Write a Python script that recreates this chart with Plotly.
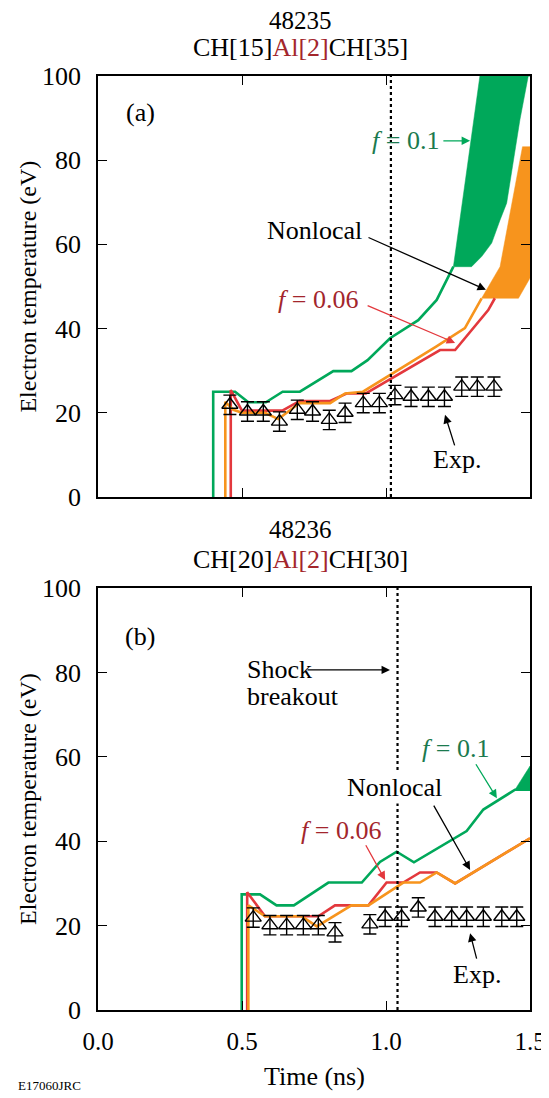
import plotly.graph_objects as go

# ---------------- data ----------------
# Panel (a): shot 48235
a_green_t = [0.40, 0.40, 0.476, 0.522, 0.583, 0.641, 0.701, 0.817, 0.88, 0.936, 1.014, 1.112, 1.176, 1.234]
a_green_T = [0, 25, 25, 22.5, 22.5, 25, 25, 29.9, 29.9, 32.5, 37.7, 42.0, 46.8, 54.7]
a_red_t = [0.461, 0.461, 0.50, 0.64, 0.70, 0.806, 0.865, 0.93, 1.1875, 1.24, 1.355, 1.378]
a_red_T = [0, 25.4, 20.5, 20.5, 22.8, 22.8, 24.6, 24.6, 34.9, 34.9, 44.4, 47.2]
a_orange_t = [0.442, 0.442, 0.47, 0.50, 0.58, 0.626, 0.70, 0.806, 0.858, 0.92, 1.174, 1.24, 1.274, 1.332]
a_orange_T = [0, 22.6, 20.7, 20.0, 20.0, 18.5, 22.3, 22.3, 24.6, 25.0, 35.7, 38.5, 40.1, 47.2]
# green band (f = 0.1): outline
a_gband_t = [1.234, 1.28, 1.326, 1.5, 1.5, 1.494, 1.465, 1.436, 1.419, 1.396, 1.367, 1.332, 1.297, 1.234]
a_gband_T = [54.7, 77.7, 100, 100, 100, 100, 89.6, 77.7, 69.8, 65.8, 60.3, 57.1, 54.7, 54.7]
# orange band (nonlocal): outline
a_oband_t = [1.332, 1.396, 1.474, 1.5, 1.5, 1.46, 1.332]
a_oband_T = [47.2, 54.7, 83.2, 83.2, 52.0, 47.2, 47.2]
a_exp_t = [0.458, 0.519, 0.574, 0.630, 0.692, 0.745, 0.803, 0.858, 0.921, 0.977,
           1.031, 1.087, 1.147, 1.203, 1.263, 1.317, 1.375]
a_exp_T = [21.9, 20.3, 20.3, 17.9, 20.7, 20.3, 18.3, 20.0, 22.3, 22.3,
           24.2, 23.8, 23.8, 23.8, 26.2, 26.2, 26.2]
a_shock = 1.017

# Panel (b): shot 48236
b_green_t = [0.499, 0.499, 0.5625, 0.62, 0.68, 0.80, 0.916, 0.979, 1.037, 1.097, 1.28, 1.338, 1.448, 1.5]
b_green_T = [0, 27.4, 27.4, 24.8, 24.8, 30.2, 30.2, 35.1, 37.5, 35.0, 42.4, 47.5, 52.2, 52.2]
b_red_t = [0.518, 0.518, 0.58, 0.765, 0.823, 0.939, 1.002, 1.06, 1.118, 1.176, 1.24, 1.5]
b_red_T = [0, 27.9, 22.2, 22.2, 24.8, 24.8, 30.2, 30.2, 32.6, 32.6, 30.0, 40.7]
b_orange_t = [0.522, 0.522, 0.58, 0.707, 0.76, 0.88, 0.939, 1.06, 1.118, 1.176, 1.24, 1.5]
b_orange_T = [0, 24.8, 22.2, 22.2, 19.8, 24.8, 24.8, 30.2, 30.2, 32.6, 30.0, 40.7]
b_gband_t = [1.448, 1.5, 1.5, 1.448]
b_gband_T = [52.2, 52.2, 57.8, 52.2]
b_exp_t = [0.539, 0.597, 0.655, 0.713, 0.765, 0.823, 0.944, 0.997, 1.054, 1.112,
           1.170, 1.228, 1.280, 1.338, 1.402, 1.454]
b_exp_T = [21.9, 20.1, 20.1, 20.1, 20.1, 18.4, 20.3, 22.1, 22.1, 24.3,
           22.1, 22.1, 22.1, 22.1, 22.1, 22.1]
b_shock = 1.04

exp_err = 2.3
x_ticks = [0.0, 0.5, 1.0, 1.5]
x_ticklabels = ["0.0", "0.5", "1.0", "1.5"]
y_ticks = [0, 20, 40, 60, 80, 100]

# ---------------- style ----------------
GREEN = "#00a85a"
ORANGE = "#f7941d"
RED = "#e3383d"
TXT_GREEN = "#1b7a4e"
TXT_RED = "#a3262c"
FONT = "Liberation Serif, Times New Roman, serif"
FS = 26
LW = 2.6

fig = go.Figure()


def add_panel(xa, ya, green_t, green_T, red_t, red_T, orange_t, orange_T,
              gband, oband, exp_t, exp_T, shock):
    xr, yr = xa, ya
    if gband is not None:
        fig.add_trace(go.Scatter(x=gband[0], y=gband[1], fill="toself", fillcolor=GREEN,
                                 mode="lines", line=dict(color=GREEN, width=0.5),
                                 xaxis=xr, yaxis=yr, showlegend=False, hoverinfo="skip"))
    if oband is not None:
        fig.add_trace(go.Scatter(x=oband[0], y=oband[1], fill="toself", fillcolor=ORANGE,
                                 mode="lines", line=dict(color=ORANGE, width=0.5),
                                 xaxis=xr, yaxis=yr, showlegend=False, hoverinfo="skip"))
    fig.add_trace(go.Scatter(x=green_t, y=green_T, mode="lines",
                             line=dict(color=GREEN, width=LW),
                             xaxis=xr, yaxis=yr, showlegend=False))
    fig.add_trace(go.Scatter(x=red_t, y=red_T, mode="lines",
                             line=dict(color=RED, width=LW),
                             xaxis=xr, yaxis=yr, showlegend=False))
    fig.add_trace(go.Scatter(x=orange_t, y=orange_T, mode="lines",
                             line=dict(color=ORANGE, width=LW),
                             xaxis=xr, yaxis=yr, showlegend=False))
    fig.add_trace(go.Scatter(x=[shock, shock], y=[0, 100], mode="lines",
                             line=dict(color="black", width=2.2, dash="dot"),
                             xaxis=xr, yaxis=yr, showlegend=False))
    fig.add_trace(go.Scatter(x=exp_t, y=exp_T, mode="markers",
                             marker=dict(symbol="triangle-up-open", size=14,
                                         color="black", line=dict(width=1.4, color="black")),
                             error_y=dict(type="constant", value=exp_err, color="black",
                                          thickness=1.4, width=6.5),
                             xaxis=xr, yaxis=yr, showlegend=False))


add_panel("x", "y", a_green_t, a_green_T, a_red_t, a_red_T, a_orange_t, a_orange_T,
          (a_gband_t, a_gband_T), (a_oband_t, a_oband_T), a_exp_t, a_exp_T, a_shock)
add_panel("x2", "y2", b_green_t, b_green_T, b_red_t, b_red_T, b_orange_t, b_orange_T,
          (b_gband_t, b_gband_T), None, b_exp_t, b_exp_T, b_shock)

axis_common = dict(showgrid=False, zeroline=False, showline=True, linecolor="black",
                   linewidth=1.5, mirror="ticks", ticks="inside", ticklen=9,
                   tickwidth=1.2, tickcolor="black", automargin=False,
                   tickfont=dict(family=FONT, size=FS, color="black"))

# page body has an 8 px margin; the figure is sized/margined to compensate
fig.update_layout(
    width=541, height=1090,
    margin=dict(l=90, r=19, t=68, b=88),
    paper_bgcolor="white", plot_bgcolor="white",
    font=dict(family=FONT, size=FS, color="black"),
    xaxis=dict(domain=[0, 1], anchor="y", range=[0, 1.5], tickvals=x_ticks,
               showticklabels=False, **axis_common),
    yaxis=dict(domain=[0.5493, 1], anchor="x", range=[0, 100], tickvals=y_ticks,
               ticklabelstandoff=10, **axis_common),
    xaxis2=dict(domain=[0, 1], anchor="y2", range=[0, 1.5], tickvals=x_ticks,
                ticktext=x_ticklabels, ticklabelstandoff=8,
                **{**axis_common, "tickfont": dict(family=FONT, size=25, color="black")}),
    yaxis2=dict(domain=[0, 0.4518], anchor="x2", range=[0, 100], tickvals=y_ticks,
                ticklabelstandoff=10, **axis_common),
)

ann = []


def text(x, y, s, xref="x", yref="y", color="black", size=FS, xanchor="center", angle=0,
         bg=None):
    d = dict(x=x, y=y, xref=xref, yref=yref, text=s, showarrow=False,
             font=dict(family=FONT, size=size, color=color),
             xanchor=xanchor, yanchor="middle", textangle=angle)
    if bg:
        d["bgcolor"] = bg
    ann.append(d)


def arrow(x0, y0, x1, y1, xref="x", yref="y", color="black"):
    ann.append(dict(x=x1, y=y1, ax=x0, ay=y0, xref=xref, yref=yref,
                    axref=xref, ayref=yref, text="", showarrow=True,
                    arrowhead=2, arrowsize=1.3, arrowwidth=1.3, arrowcolor=color))


# titles
text(0.4676, 1.059, "48235", "paper", "paper", size=25)
text(0.4676, 1.031, "CH[15]<span style='color:%s'>Al[2]</span>CH[35]" % TXT_RED, "paper", "paper")
text(0.4676, 0.514, "48236", "paper", "paper", size=25)
text(0.4676, 0.4818, "CH[20]<span style='color:%s'>Al[2]</span>CH[30]" % TXT_RED, "paper", "paper")

# axis titles
text(-0.162, 0.7746, "Electron temperature (eV)", "paper", "paper", size=24, angle=-90)
text(-0.162, 0.2259, "Electron temperature (eV)", "paper", "paper", size=24, angle=-90)
text(0.502, -0.0717, "Time (ns)", "paper", "paper")
text(-0.19, -0.0803, "E17060JRC", "paper", "paper", size=13, xanchor="left")

# panel (a)
text(0.146, 91.4, "(a)")
text(1.066, 84.6, "<i>f</i> = 0.1", color=TXT_GREEN)
arrow(1.194, 84.6, 1.292, 84.6, color=GREEN)
text(0.753, 63.2, "Nonlocal")
arrow(0.934, 61.8, 1.347, 49.2)
text(0.764, 46.8, "<i>f</i> = 0.06", color=TXT_RED)
arrow(0.931, 45.6, 1.24, 36.6, color=RED)
text(1.247, 8.8, "Exp.")
arrow(1.24, 11.9, 1.205, 19.5)

# panel (b)
text(0.146, 88.4, "(b)", "x2", "y2")
text(0.510, 80.6, "Shock", "x2", "y2", xanchor="left")
text(0.510, 74.2, "breakout", "x2", "y2", xanchor="left")
arrow(0.722, 80.6, 1.014, 80.6, "x2", "y2")
text(1.24, 62.0, "<i>f</i> = 0.1", "x2", "y2", color=TXT_GREEN)
arrow(1.309, 58.6, 1.385, 50.2, "x2", "y2", color=GREEN)
text(1.031, 52.8, "Nonlocal", "x2", "y2", bg="white")
arrow(1.163, 48.8, 1.292, 33.2, "x2", "y2")
text(0.845, 42.6, "<i>f</i> = 0.06", "x2", "y2", color=TXT_RED)
arrow(0.927, 39.4, 0.997, 30.8, "x2", "y2", color=RED)
text(1.316, 8.3, "Exp.", "x2", "y2")
arrow(1.316, 11.8, 1.292, 18.2, "x2", "y2")

fig.update_layout(annotations=ann)

fig.write_html("out.html")
